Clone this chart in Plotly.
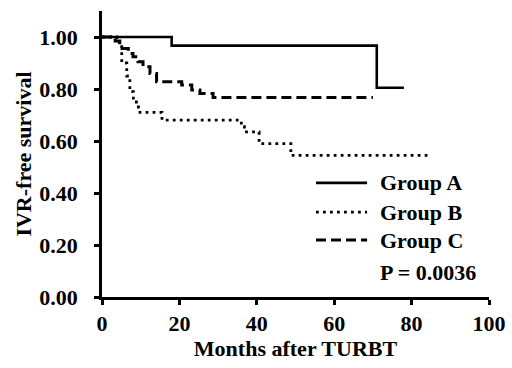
import plotly.graph_objects as go

# Kaplan-Meier step data (months, survival)
a_months = [0, 18, 71, 78]
a_surv = [1.00, 0.967, 0.805, 0.805]

b_months = [0, 3.8, 5.1, 6.4, 7.2, 8.1, 9.4, 15.5, 36.0, 36.8, 40.6, 48.8, 85]
b_surv = [1.00, 0.98, 0.90, 0.85, 0.79, 0.75, 0.71, 0.68, 0.655, 0.635, 0.59, 0.545, 0.545]

c_months = [0, 3.4, 4.6, 6.8, 8.0, 9.3, 10.6, 12.4, 14.1, 20.6, 23.2, 25.3, 28.7, 70]
c_surv = [1.00, 0.985, 0.956, 0.937, 0.924, 0.905, 0.886, 0.86, 0.828, 0.815, 0.796, 0.783, 0.767, 0.767]

legend_names = ["Group A", "Group B", "Group C"]
p_text = "P = 0.0036"

x_ticks = [0, 20, 40, 60, 80, 100]
y_ticks = [0.0, 0.2, 0.4, 0.6, 0.8, 1.0]

FONT = "Liberation Serif"
FS = 22
styles = [("solid", 2.6), ("2.8px,4.2px", 2.8), ("10px,5px", 3.0)]

fig = go.Figure()
for (xs, ys), name, (dash, w) in zip(
    [(a_months, a_surv), (b_months, b_surv), (c_months, c_surv)], legend_names, styles
):
    fig.add_trace(go.Scatter(x=xs, y=ys, mode="lines", line_shape="hv",
                             line=dict(color="black", width=w, dash=dash),
                             name=name, showlegend=False))

# manual legend
leg_y = [0.399, 0.297, 0.199]
for name, (dash, w), yy in zip(legend_names, styles, leg_y):
    fig.add_shape(type="line", xref="paper", yref="paper", x0=0.553, x1=0.685, y0=yy, y1=yy,
                  line=dict(color="black", width=w, dash=dash))
    fig.add_annotation(xref="paper", yref="paper", x=0.712, y=yy, text=name, showarrow=False,
                       xanchor="left", yanchor="middle",
                       font=dict(family=FONT, size=FS, color="black", weight="bold"))
fig.add_annotation(xref="paper", yref="paper", x=0.712, y=0.086, text=p_text, showarrow=False,
                   xanchor="left", yanchor="middle",
                   font=dict(family=FONT, size=FS, color="black", weight="bold"))

axis_common = dict(showline=True, linecolor="black", linewidth=2.8, ticks="outside",
                   ticklen=5, tickwidth=2.8, tickcolor="black", showgrid=False, zeroline=False,
                   automargin=False,
                   tickfont=dict(family=FONT, size=FS, color="black", weight="bold"))
fig.update_xaxes(range=[0, 100], tickvals=x_ticks, ticktext=[str(t) for t in x_ticks],
                 title=dict(text="Months after TURBT", standoff=5,
                            font=dict(family=FONT, size=FS, color="black", weight="bold")),
                 ticklabelstandoff=0, **axis_common)
fig.update_yaxes(range=[0, 1.1], tickvals=y_ticks, ticktext=[f"{t:.2f}" for t in y_ticks],
                 title=dict(text="IVR-free survival", standoff=2,
                            font=dict(family=FONT, size=FS, color="black", weight="bold")),
                 ticklabelstandoff=12, **axis_common)

fig.update_layout(width=512, height=368, margin=dict(l=102, r=23, t=11, b=71),
                  plot_bgcolor="white", paper_bgcolor="white", showlegend=False)

fig.write_html("out.html")
